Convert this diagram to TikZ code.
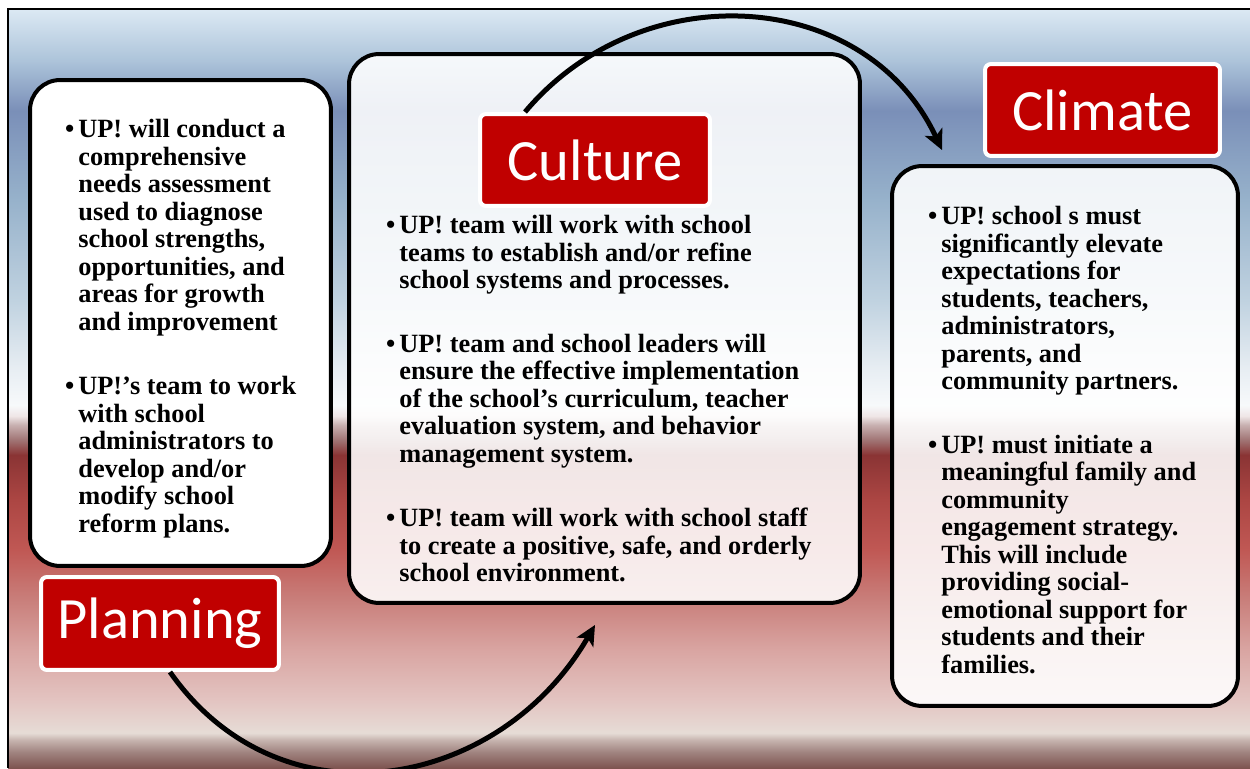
\documentclass[tikz,border=0pt]{standalone}
\usepackage{fontspec}
\setmainfont{Liberation Serif}
\newfontfamily\tagfont{Carlito}
\usetikzlibrary{arrows.meta}

\definecolor{tagred}{HTML}{C00000}
\definecolor{bga}{HTML}{7E5450}
\definecolor{bgb}{HTML}{A08480}
\definecolor{bgc}{HTML}{C6B3AE}
\definecolor{bgd}{HTML}{E6DCD6}
\definecolor{bge}{HTML}{E3C4C1}
\definecolor{bgf}{HTML}{D9A5A2}
\definecolor{bgg}{HTML}{C97F7B}
\definecolor{bgh}{HTML}{C05854}
\definecolor{bgi}{HTML}{AC4643}
\definecolor{bgj}{HTML}{8A3434}
\definecolor{bgk}{HTML}{A07474}
\definecolor{bgl}{HTML}{C8B0B0}
\definecolor{bgm}{HTML}{EFE6E6}
\definecolor{bgn}{HTML}{F7F9FB}
\definecolor{bgo}{HTML}{E8EEF3}
\definecolor{bgp}{HTML}{C0D2E0}
\definecolor{bgq}{HTML}{97B2CB}
\definecolor{bgr}{HTML}{7A8FB8}
\definecolor{bgs}{HTML}{ADC4DA}
\definecolor{bgt}{HTML}{DCE9F4}

\pgfdeclareverticalshading{slidebg}{100bp}{color(0bp)=(bga); color(25bp)=(bga);
  color(26.05bp)=(bgb); color(26.84bp)=(bgc); color(27.31bp)=(bgd); color(29.48bp)=(bge);
  color(32.77bp)=(bgf); color(36.07bp)=(bgg); color(39.36bp)=(bgh); color(42.65bp)=(bgi);
  color(45.62bp)=(bgj); color(46.6bp)=(bgk); color(47.6bp)=(bgl); color(48.19bp)=(bgm);
  color(48.9bp)=(bgn); color(51.2bp)=(bgo); color(55.8bp)=(bgp); color(62.4bp)=(bgq);
  color(68.3bp)=(bgr); color(71.6bp)=(bgs); color(75bp)=(bgt); color(100bp)=(bgt)}

\newcommand{\upbul}{\llap{\textbullet\hspace{0.08cm}}}

\begin{document}
\begin{tikzpicture}[x=0.02cm,y=0.02cm,
  card/.style={draw=black,line width=0.08cm,rounded corners=0.6cm,fill=white},
  tag/.style={draw=white,line width=0.08cm,rounded corners=0.12cm,fill=tagred,text=white,
    font=\tagfont\fontsize{33.3}{38}\selectfont,inner sep=0pt},
  blurb/.style={align=left,inner sep=0pt,anchor=north west,
    font=\bfseries\fontsize{15}{15.65}\selectfont},
  swing/.style={line width=0.1cm,-{Stealth[length=0.4cm,width=0.38cm,inset=0.1cm]}}]

\useasboundingbox (0,0) rectangle (1250,768);
\shade[shading=slidebg] (8,0) rectangle (1250,759);
\draw[line width=0.03cm] (8,0) -- (8,759) -- (1250,759);

% boxes
\node[card,minimum width=6.02cm,minimum height=9.72cm](plancard) at (180.5,445){};
\node[card,fill opacity=0.88,minimum width=10.22cm,minimum height=10.98cm](midcard) at (604.5,439.5){};
\node[card,fill opacity=0.88,minimum width=6.92cm,minimum height=10.8cm](climcard) at (1065,332){};

% labels
\node[tag,minimum width=4.76cm,minimum height=1.86cm](plantag) at (160,144.5){Planning};
\node[tag,minimum width=4.6cm,minimum height=1.84cm](cultag) at (595,608){Culture};
\node[tag,minimum width=4.7cm,minimum height=1.84cm](climtag) at (1102.5,658){Climate};

% texts
\node[blurb](plantxt) at (78,649){\upbul UP! will conduct a\\comprehensive\\needs assessment\\used to diagnose\\school strengths,\\opportunities, and\\areas for growth\\and improvement\\[0.74cm]\upbul UP!’s team to work\\with school\\administrators to\\develop and/or\\modify school\\reform plans.};
\node[blurb](culttxt) at (399,553){\upbul UP! team will work with school\\teams to establish and/or refine\\school systems and processes.\\[0.72cm]\upbul UP! team and school leaders will\\ensure the effective implementation\\of the school’s curriculum, teacher\\evaluation system, and behavior\\management system.\\[0.74cm]\upbul UP! team will work with school staff\\to create a positive, safe, and orderly\\school environment.};
\node[blurb](climtxt) at (941,562){\upbul UP! school s must\\significantly elevate\\expectations for\\students, teachers,\\administrators,\\parents, and\\community partners.\\[0.72cm]\upbul UP! must initiate a\\meaningful family and\\community\\engagement strategy.\\This will include\\providing social-\\emotional support for\\students and their\\families.};

% arrows
\draw[swing]([xshift=0.94cm]cultag.north west) to[out=50,in=115,looseness=1.1] ([xshift=1.04cm,yshift=0.28cm]climcard.north west);
\draw[swing]([xshift=0.2cm]plantag.south) to[out=-55,in=-120,looseness=1.15] ([xshift=-0.19cm,yshift=-0.4cm]midcard.south);

\end{tikzpicture}
\end{document}
